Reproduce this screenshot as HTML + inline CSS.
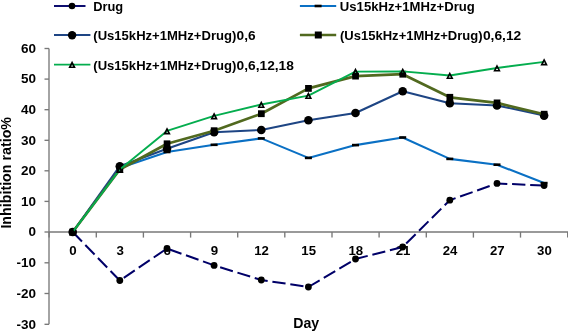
<!DOCTYPE html><html><head><meta charset="utf-8"><title>Inhibition ratio chart</title><style>html,body{margin:0;padding:0;background:#fff}svg{display:block}</style></head><body>
<svg width="568" height="331" viewBox="0 0 568 331">
<rect width="568" height="331" fill="#fff"/>
<g stroke="#787878" stroke-width="1.35" fill="none">
<line x1="49" y1="48.5" x2="49" y2="324.3"/>
<line x1="49" y1="232" x2="568" y2="232"/>
<line x1="44.5" y1="48.5" x2="49" y2="48.5"/>
<line x1="44.5" y1="79.1" x2="49" y2="79.1"/>
<line x1="44.5" y1="109.7" x2="49" y2="109.7"/>
<line x1="44.5" y1="140.3" x2="49" y2="140.3"/>
<line x1="44.5" y1="170.8" x2="49" y2="170.8"/>
<line x1="44.5" y1="201.4" x2="49" y2="201.4"/>
<line x1="44.5" y1="232.0" x2="49" y2="232.0"/>
<line x1="44.5" y1="262.8" x2="49" y2="262.8"/>
<line x1="44.5" y1="293.5" x2="49" y2="293.5"/>
<line x1="44.5" y1="324.3" x2="49" y2="324.3"/>
<line x1="49.1" y1="232" x2="49.1" y2="237.6"/>
<line x1="96.3" y1="232" x2="96.3" y2="237.6"/>
<line x1="143.4" y1="232" x2="143.4" y2="237.6"/>
<line x1="190.6" y1="232" x2="190.6" y2="237.6"/>
<line x1="237.7" y1="232" x2="237.7" y2="237.6"/>
<line x1="284.8" y1="232" x2="284.8" y2="237.6"/>
<line x1="332.0" y1="232" x2="332.0" y2="237.6"/>
<line x1="379.1" y1="232" x2="379.1" y2="237.6"/>
<line x1="426.3" y1="232" x2="426.3" y2="237.6"/>
<line x1="473.4" y1="232" x2="473.4" y2="237.6"/>
<line x1="520.5" y1="232" x2="520.5" y2="237.6"/>
<line x1="567.7" y1="232" x2="567.7" y2="237.6"/>
</g>
<g font-family="Liberation Sans, Arial, sans-serif" font-weight="bold" font-size="13" fill="#000" text-anchor="end">
<text x="36.1" y="52.8" textLength="15.0" lengthAdjust="spacingAndGlyphs">60</text>
<text x="36.1" y="83.4" textLength="15.0" lengthAdjust="spacingAndGlyphs">50</text>
<text x="36.1" y="114.0" textLength="15.0" lengthAdjust="spacingAndGlyphs">40</text>
<text x="36.1" y="144.6" textLength="15.0" lengthAdjust="spacingAndGlyphs">30</text>
<text x="36.1" y="175.1" textLength="15.0" lengthAdjust="spacingAndGlyphs">20</text>
<text x="36.1" y="205.7" textLength="15.0" lengthAdjust="spacingAndGlyphs">10</text>
<text x="36.1" y="236.3" textLength="7.5" lengthAdjust="spacingAndGlyphs">0</text>
<text x="36.1" y="267.1" textLength="19.5" lengthAdjust="spacingAndGlyphs">-10</text>
<text x="36.1" y="297.8" textLength="19.5" lengthAdjust="spacingAndGlyphs">-20</text>
<text x="36.1" y="328.6" textLength="19.5" lengthAdjust="spacingAndGlyphs">-30</text>
</g>
<g font-family="Liberation Sans, Arial, sans-serif" font-weight="bold" font-size="13" fill="#000" text-anchor="middle">
<text x="73.0" y="255.2" textLength="7.4" lengthAdjust="spacingAndGlyphs">0</text>
<text x="120.1" y="255.2" textLength="7.4" lengthAdjust="spacingAndGlyphs">3</text>
<text x="167.3" y="255.2" textLength="7.4" lengthAdjust="spacingAndGlyphs">6</text>
<text x="214.4" y="255.2" textLength="7.4" lengthAdjust="spacingAndGlyphs">9</text>
<text x="261.6" y="255.2" textLength="14.7" lengthAdjust="spacingAndGlyphs">12</text>
<text x="308.7" y="255.2" textLength="14.7" lengthAdjust="spacingAndGlyphs">15</text>
<text x="355.8" y="255.2" textLength="14.7" lengthAdjust="spacingAndGlyphs">18</text>
<text x="403.0" y="255.2" textLength="14.7" lengthAdjust="spacingAndGlyphs">21</text>
<text x="450.1" y="255.2" textLength="14.7" lengthAdjust="spacingAndGlyphs">24</text>
<text x="497.3" y="255.2" textLength="14.7" lengthAdjust="spacingAndGlyphs">27</text>
<text x="544.4" y="255.2" textLength="14.7" lengthAdjust="spacingAndGlyphs">30</text>
</g>
<text font-family="Liberation Sans, Arial, sans-serif" font-weight="bold" font-size="14" x="293.2" y="328.4" textLength="25.9" lengthAdjust="spacingAndGlyphs">Day</text>
<text font-family="Liberation Sans, Arial, sans-serif" font-weight="bold" font-size="14" transform="translate(11.4,228.6) rotate(-90)" textLength="111.6" lengthAdjust="spacingAndGlyphs">Inhibition ratio%</text>
<polyline points="72.7,232.0 119.8,280.5 167.0,248.5 214.1,265.4 261.3,280.0 308.4,287.0 355.5,259.0 402.7,247.0 449.8,200.2 497.0,183.4 544.1,185.6" fill="none" stroke="#000068" stroke-width="2.0" stroke-dasharray="13.3 4.8" stroke-linejoin="round"/>
<circle cx="72.7" cy="232.0" r="3.4" fill="#000"/>
<circle cx="119.8" cy="280.5" r="3.4" fill="#000"/>
<circle cx="167.0" cy="248.5" r="3.4" fill="#000"/>
<circle cx="214.1" cy="265.4" r="3.4" fill="#000"/>
<circle cx="261.3" cy="280.0" r="3.4" fill="#000"/>
<circle cx="308.4" cy="287.0" r="3.4" fill="#000"/>
<circle cx="355.5" cy="259.0" r="3.4" fill="#000"/>
<circle cx="402.7" cy="247.0" r="3.4" fill="#000"/>
<circle cx="449.8" cy="200.2" r="3.4" fill="#000"/>
<circle cx="497.0" cy="183.4" r="3.4" fill="#000"/>
<circle cx="544.1" cy="185.6" r="3.4" fill="#000"/>
<polyline points="72.7,232.0 119.8,168.0 167.0,152.0 214.1,144.8 261.3,138.4 308.4,157.9 355.5,145.1 402.7,137.5 449.8,158.9 497.0,164.7 544.1,183.1" fill="none" stroke="#0a70c4" stroke-width="2.1" stroke-linejoin="round"/>
<rect x="69.2" y="230.7" width="7" height="2.6" fill="#000"/>
<rect x="116.3" y="166.7" width="7" height="2.6" fill="#000"/>
<rect x="163.5" y="150.7" width="7" height="2.6" fill="#000"/>
<rect x="210.6" y="143.5" width="7" height="2.6" fill="#000"/>
<rect x="257.8" y="137.1" width="7" height="2.6" fill="#000"/>
<rect x="304.9" y="156.6" width="7" height="2.6" fill="#000"/>
<rect x="352.0" y="143.8" width="7" height="2.6" fill="#000"/>
<rect x="399.2" y="136.2" width="7" height="2.6" fill="#000"/>
<rect x="446.3" y="157.6" width="7" height="2.6" fill="#000"/>
<rect x="493.5" y="163.4" width="7" height="2.6" fill="#000"/>
<rect x="540.6" y="181.8" width="7" height="2.6" fill="#000"/>
<polyline points="72.7,232.0 119.8,166.2 167.0,148.7 214.1,132.2 261.3,130.0 308.4,120.3 355.5,113.0 402.7,91.3 449.8,103.3 497.0,105.4 544.1,115.6" fill="none" stroke="#1e4584" stroke-width="2.05" stroke-linejoin="round"/>
<circle cx="72.7" cy="232.0" r="4.3" fill="#000"/>
<circle cx="119.8" cy="166.2" r="4.3" fill="#000"/>
<circle cx="167.0" cy="148.7" r="4.3" fill="#000"/>
<circle cx="214.1" cy="132.2" r="4.3" fill="#000"/>
<circle cx="261.3" cy="130.0" r="4.3" fill="#000"/>
<circle cx="308.4" cy="120.3" r="4.3" fill="#000"/>
<circle cx="355.5" cy="113.0" r="4.3" fill="#000"/>
<circle cx="402.7" cy="91.3" r="4.3" fill="#000"/>
<circle cx="449.8" cy="103.3" r="4.3" fill="#000"/>
<circle cx="497.0" cy="105.4" r="4.3" fill="#000"/>
<circle cx="544.1" cy="115.6" r="4.3" fill="#000"/>
<polyline points="72.7,232.0 119.8,169.5 167.0,143.8 214.1,130.7 261.3,113.7 308.4,88.4 355.5,76.1 402.7,74.2 449.8,97.3 497.0,102.9 544.1,114.2" fill="none" stroke="#51691f" stroke-width="2.7" stroke-linejoin="round"/>
<rect x="69.4" y="228.6" width="6.7" height="6.8" fill="#000"/>
<rect x="116.5" y="166.1" width="6.7" height="6.8" fill="#000"/>
<rect x="163.7" y="140.4" width="6.7" height="6.8" fill="#000"/>
<rect x="210.8" y="127.3" width="6.7" height="6.8" fill="#000"/>
<rect x="258.0" y="110.3" width="6.7" height="6.8" fill="#000"/>
<rect x="305.1" y="85.0" width="6.7" height="6.8" fill="#000"/>
<rect x="352.2" y="72.7" width="6.7" height="6.8" fill="#000"/>
<rect x="399.4" y="70.8" width="6.7" height="6.8" fill="#000"/>
<rect x="446.5" y="93.9" width="6.7" height="6.8" fill="#000"/>
<rect x="493.7" y="99.5" width="6.7" height="6.8" fill="#000"/>
<rect x="540.8" y="110.8" width="6.7" height="6.8" fill="#000"/>
<polyline points="72.7,232.0 119.8,169.5 167.0,130.9 214.1,115.9 261.3,104.5 308.4,95.6 355.5,71.6 402.7,71.4 449.8,75.5 497.0,68.0 544.1,61.9" fill="none" stroke="#04ad4e" stroke-width="1.9" stroke-linejoin="round"/>
<path d="M72.7,230.0 L75.1,234.7 L70.3,234.7 Z" fill="none" stroke="#000" stroke-width="1.6"/>
<path d="M119.8,167.5 L122.2,172.2 L117.4,172.2 Z" fill="none" stroke="#000" stroke-width="1.6"/>
<path d="M167.0,128.9 L169.4,133.6 L164.6,133.6 Z" fill="none" stroke="#000" stroke-width="1.6"/>
<path d="M214.1,113.9 L216.5,118.6 L211.7,118.6 Z" fill="none" stroke="#000" stroke-width="1.6"/>
<path d="M261.3,102.5 L263.7,107.2 L258.9,107.2 Z" fill="none" stroke="#000" stroke-width="1.6"/>
<path d="M308.4,93.6 L310.8,98.3 L306.0,98.3 Z" fill="none" stroke="#000" stroke-width="1.6"/>
<path d="M355.5,69.6 L357.9,74.3 L353.1,74.3 Z" fill="none" stroke="#000" stroke-width="1.6"/>
<path d="M402.7,69.4 L405.1,74.1 L400.3,74.1 Z" fill="none" stroke="#000" stroke-width="1.6"/>
<path d="M449.8,73.5 L452.2,78.2 L447.4,78.2 Z" fill="none" stroke="#000" stroke-width="1.6"/>
<path d="M497.0,66.0 L499.4,70.7 L494.6,70.7 Z" fill="none" stroke="#000" stroke-width="1.6"/>
<path d="M544.1,59.9 L546.5,64.6 L541.7,64.6 Z" fill="none" stroke="#000" stroke-width="1.6"/>
<line x1="54" y1="6" x2="85.5" y2="6" stroke="#000068" stroke-width="1.9"/>
<circle cx="72" cy="6" r="3.3" fill="#000"/>
<line x1="54" y1="35" x2="90.4" y2="35" stroke="#1e4584" stroke-width="2.0"/>
<circle cx="72.1" cy="35.2" r="4.2" fill="#000"/>
<line x1="54" y1="64.6" x2="90.4" y2="64.6" stroke="#04ad4e" stroke-width="1.8"/>
<path d="M72.1,62.6 L74.5,67.3 L69.7,67.3 Z" fill="none" stroke="#000" stroke-width="1.6"/>
<line x1="299.9" y1="6" x2="336.2" y2="6" stroke="#0a70c4" stroke-width="2"/>
<rect x="314.6" y="4.7" width="7" height="2.6" fill="#000"/>
<line x1="299.9" y1="35" x2="336.2" y2="35" stroke="#51691f" stroke-width="2.7"/>
<rect x="314.8" y="31.5" width="7" height="7" fill="#000"/>
<g font-family="Liberation Sans, Arial, sans-serif" font-weight="bold" font-size="13" fill="#000">
<text x="93.2" y="10.9" textLength="30" lengthAdjust="spacingAndGlyphs">Drug</text>
<text x="93.3" y="39.9"><tspan textLength="143" lengthAdjust="spacingAndGlyphs">(Us15kHz+1MHz+Drug)</tspan><tspan x="236.6" textLength="19" lengthAdjust="spacingAndGlyphs">0,6</tspan></text>
<text x="93.3" y="69.5"><tspan textLength="143" lengthAdjust="spacingAndGlyphs">(Us15kHz+1MHz+Drug)</tspan><tspan x="236.6" textLength="57.3" lengthAdjust="spacingAndGlyphs">0,6,12,18</tspan></text>
<text x="339.8" y="10.9" textLength="135" lengthAdjust="spacingAndGlyphs">Us15kHz+1MHz+Drug</text>
<text x="340" y="39.9"><tspan textLength="142.6" lengthAdjust="spacingAndGlyphs">(Us15kHz+1MHz+Drug)</tspan><tspan x="482.9" textLength="38.4" lengthAdjust="spacingAndGlyphs">0,6,12</tspan></text>
</g>
</svg></body></html>
